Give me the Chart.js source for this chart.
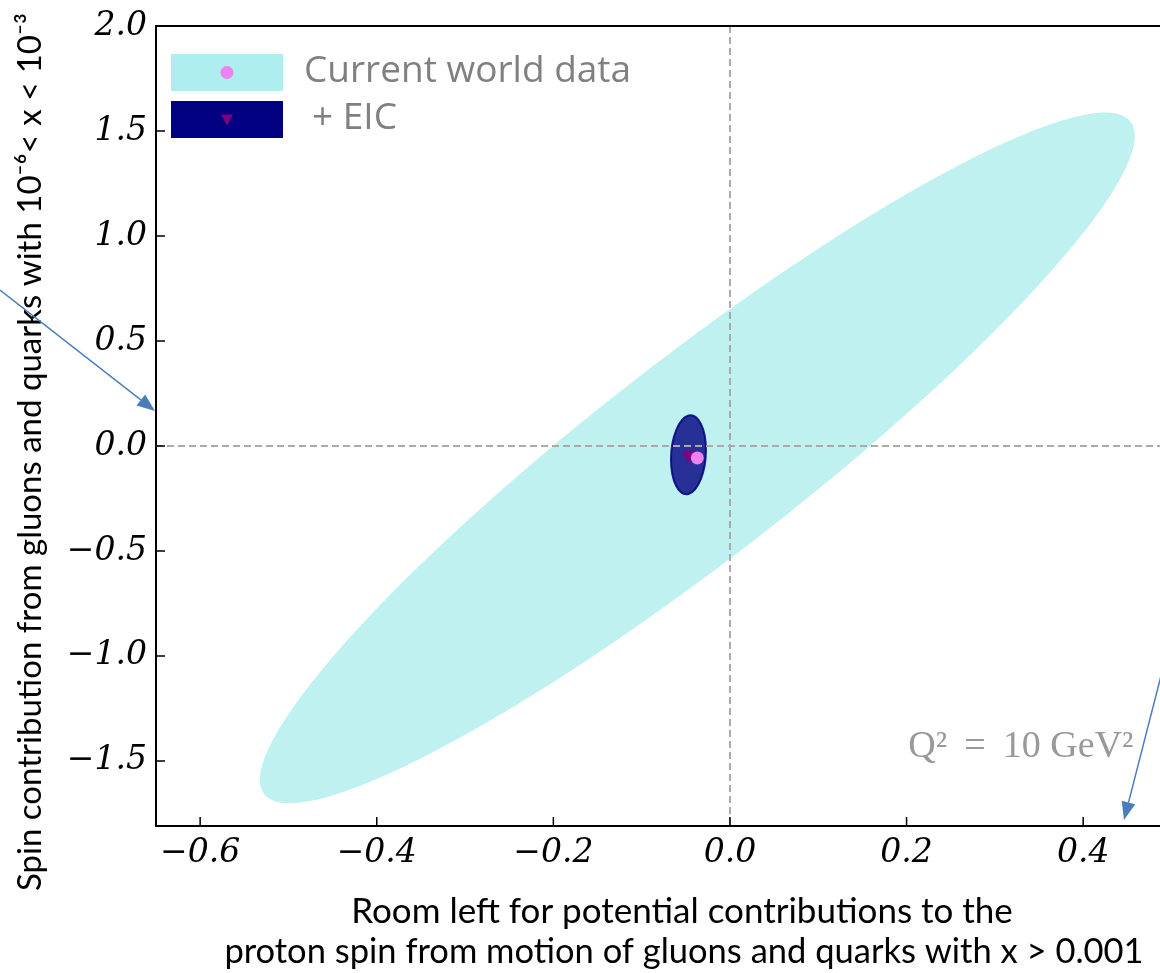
<!DOCTYPE html>
<html>
<head>
<meta charset="utf-8">
<script src="https://cdn.jsdelivr.net/npm/chart.js@4.4.1/dist/chart.umd.min.js"></script>
<style>
  html, body { margin: 0; padding: 0; background: #fff; overflow: hidden; }
  #wrap { width: 1160px; height: 973px; }
</style>
</head>
<body>
<div id="wrap"><canvas id="spinChart" width="1160" height="973"></canvas></div>
<script>
// series: central values
const seriesNames = ['Current world data', '+ EIC'];
const centerX = [-0.037, -0.047];
const centerY = [-0.057, -0.042];
// uncertainty ellipses: half extent in x, half extent in y, correlation
const spreadX = [0.4955, 0.0198];
const spreadY = [1.645, 0.188];
const corr = [0.932, 0.12];

const xTicks = [-0.6, -0.4, -0.2, 0.0, 0.2, 0.4];
const yTicks = [-1.5, -1.0, -0.5, 0.0, 0.5, 1.0, 1.5, 2.0];
const xRange = [-0.65, 0.487];
const yRange = [-1.81, 2.0];

const fills = ['rgba(175,238,238,0.8)', 'rgba(0,0,128,0.8)'];
const edges = [null, 'rgba(0,0,128,0.85)'];
const markerColors = ['violet', 'purple'];

function tickText(v) {
    return (v < 0 ? '\u2212' : '') + Math.abs(v).toFixed(1);
}

// ellipses + dashed zero lines, under the markers
const ellipsePlugin = {
    id: 'ellipses',
    beforeDatasetsDraw(chart) {
        const { ctx, chartArea, scales: { x, y } } = chart;
        const kx = x.getPixelForValue(1) - x.getPixelForValue(0);
        const ky = y.getPixelForValue(1) - y.getPixelForValue(0);
        ctx.save();
        ctx.beginPath();
        ctx.rect(chartArea.left, chartArea.top, chartArea.width, chartArea.height);
        ctx.clip();
        centerX.forEach((cx, i) => {
            const r = corr[i];
            ctx.save();
            ctx.beginPath();
            ctx.transform(kx * spreadX[i], ky * spreadY[i] * r, 0, ky * spreadY[i] * Math.sqrt(1 - r * r),
                x.getPixelForValue(cx), y.getPixelForValue(centerY[i]));
            ctx.arc(0, 0, 1, 0, Math.PI * 2);
            ctx.restore();
            ctx.fillStyle = fills[i];
            ctx.fill();
            if (edges[i]) {
                ctx.strokeStyle = edges[i];
                ctx.lineWidth = 2;
                ctx.stroke();
            }
        });
        // zero lines
        ctx.strokeStyle = '#aaaaaa';
        ctx.lineWidth = 2;
        ctx.setLineDash([7, 4]);
        const x0 = x.getPixelForValue(0), y0 = y.getPixelForValue(0);
        ctx.beginPath();
        ctx.moveTo(x0, chartArea.top); ctx.lineTo(x0, chartArea.bottom);
        ctx.moveTo(chartArea.left, y0); ctx.lineTo(chartArea.right, y0);
        ctx.stroke();
        ctx.restore();
    }
};

function arrow(ctx, x1, y1, x2, y2) {
    const a = Math.atan2(y2 - y1, x2 - x1);
    const len = 18, half = 7;
    const bx = x2 - len * Math.cos(a), by = y2 - len * Math.sin(a);
    ctx.beginPath();
    ctx.moveTo(x1, y1);
    ctx.lineTo(bx, by);
    ctx.stroke();
    ctx.beginPath();
    ctx.moveTo(x2, y2);
    ctx.lineTo(bx + half * Math.sin(a), by - half * Math.cos(a));
    ctx.lineTo(bx - half * Math.sin(a), by + half * Math.cos(a));
    ctx.closePath();
    ctx.fill();
}

// frame, inward ticks, legend, titles, annotation
const decorPlugin = {
    id: 'decor',
    afterDraw(chart) {
        const { ctx, chartArea, scales: { x, y } } = chart;
        ctx.save();
        // top frame
        ctx.strokeStyle = '#000';
        ctx.lineWidth = 2;
        ctx.beginPath();
        ctx.moveTo(chartArea.left, chartArea.top);
        ctx.lineTo(chartArea.right, chartArea.top);
        ctx.stroke();
        // inward ticks
        ctx.lineWidth = 1.5;
        ctx.beginPath();
        xTicks.forEach(v => {
            const px = x.getPixelForValue(v);
            ctx.moveTo(px, chartArea.bottom);
            ctx.lineTo(px, chartArea.bottom - 9);
        });
        yTicks.forEach(v => {
            const py = y.getPixelForValue(v);
            ctx.moveTo(chartArea.left, py);
            ctx.lineTo(chartArea.left + 9, py);
        });
        ctx.stroke();

        // legend
        const lx = chartArea.left + 15, lw = 112, lh = 37;
        const rows = [chartArea.top + 28, chartArea.top + 75];
        rows.forEach((ty, i) => {
            ctx.fillStyle = i === 0 ? 'paleturquoise' : 'navy';
            ctx.fillRect(lx, ty, lw, lh);
            const mx = lx + lw / 2, my = ty + lh / 2;
            ctx.fillStyle = markerColors[i];
            ctx.beginPath();
            if (i === 0) {
                ctx.arc(mx, my, 6.5, 0, Math.PI * 2);
            } else {
                ctx.moveTo(mx - 6, my - 5);
                ctx.lineTo(mx + 6, my - 5);
                ctx.lineTo(mx, my + 6);
                ctx.closePath();
            }
            ctx.fill();
            ctx.fillStyle = '#808080';
            ctx.font = '37px "Open Sans"';
            ctx.textAlign = 'left';
            ctx.textBaseline = 'middle';
            ctx.fillText(seriesNames[i], lx + 133 + (i === 1 ? 8 : 0), my - 1);
        });

        // Q^2 note
        ctx.fillStyle = '#999999';
        ctx.font = '38px "Liberation Serif"';
        ctx.textAlign = 'left';
        ctx.textBaseline = 'alphabetic';
        ctx.fillText('Q\u00b2 \u2009=\u2009 10 GeV\u00b2', x.getPixelForValue(0.202), y.getPixelForValue(-1.48));

        // axis titles
        ctx.fillStyle = '#000';
        ctx.textAlign = 'center';
        ctx.textBaseline = 'middle';
        ctx.font = '35px Lato';
        ctx.fillText('Room left for potential contributions to the', 682, 912);
        ctx.font = '34.5px Lato';
        ctx.fillText('proton spin from motion of gluons and quarks with x > 0.001', 684, 952);
        ctx.save();
        ctx.translate(30, 452);
        ctx.rotate(-Math.PI / 2);
        ctx.font = '33px Lato';
        ctx.fillText('Spin contribution from gluons and quarks with 10\u207b\u2076< x < 10\u207b\u00b3', 0, 0);
        ctx.restore();

        // slide pointer arrows
        ctx.strokeStyle = '#4a7ebb';
        ctx.fillStyle = '#4a7ebb';
        ctx.lineWidth = 1.5;
        arrow(ctx, 0, 290, 155, 411);
        arrow(ctx, 1162, 672, 1124, 820);
        ctx.restore();
    }
};

const ctx1 = document.getElementById('spinChart').getContext('2d');
const spinChart = new Chart(ctx1, {
    type: 'scatter',
    data: {
        datasets: [{
            label: seriesNames[0],
            data: [{ x: centerX[0], y: centerY[0] }],
            pointStyle: 'circle',
            pointRadius: 6.5,
            backgroundColor: markerColors[0],
            borderWidth: 0
        },
        {
            label: seriesNames[1],
            data: [{ x: centerX[1], y: centerY[1] }],
            pointStyle: 'triangle',
            pointRotation: 180,
            pointRadius: 8,
            backgroundColor: markerColors[1],
            borderWidth: 0
        }]
    },
    options: {
        responsive: false,
        animation: false,
        layout: { autoPadding: false, padding: { top: 26, right: 0, left: 0, bottom: 0 } },
        scales: {
            x: {
                type: 'linear',
                min: xRange[0],
                max: xRange[1],
                afterBuildTicks: s => { s.ticks = xTicks.map(v => ({ value: v })); },
                afterFit: s => { s.height = 147; s.paddingLeft = 0; s.paddingRight = 0; },
                grid: { display: false, drawTicks: false },
                border: { display: true, color: '#000', width: 2 },
                ticks: {
                    padding: 8,
                    color: '#000',
                    maxRotation: 0,
                    font: { family: 'DejaVu Serif', size: 33, style: 'italic' },
                    callback: v => tickText(v)
                }
            },
            y: {
                type: 'linear',
                min: yRange[0],
                max: yRange[1],
                afterBuildTicks: s => { s.ticks = yTicks.map(v => ({ value: v })); },
                afterFit: s => { s.width = 156; s.paddingTop = 0; s.paddingBottom = 0; },
                grid: { display: false, drawTicks: false },
                border: { display: true, color: '#000', width: 2 },
                ticks: {
                    padding: 9,
                    color: '#000',
                    font: { family: 'DejaVu Serif', size: 33, style: 'italic' },
                    callback: v => tickText(v)
                }
            }
        },
        plugins: {
            legend: { display: false },
            tooltip: { enabled: false }
        }
    },
    plugins: [ellipsePlugin, decorPlugin]
});
</script>
</body>
</html>
